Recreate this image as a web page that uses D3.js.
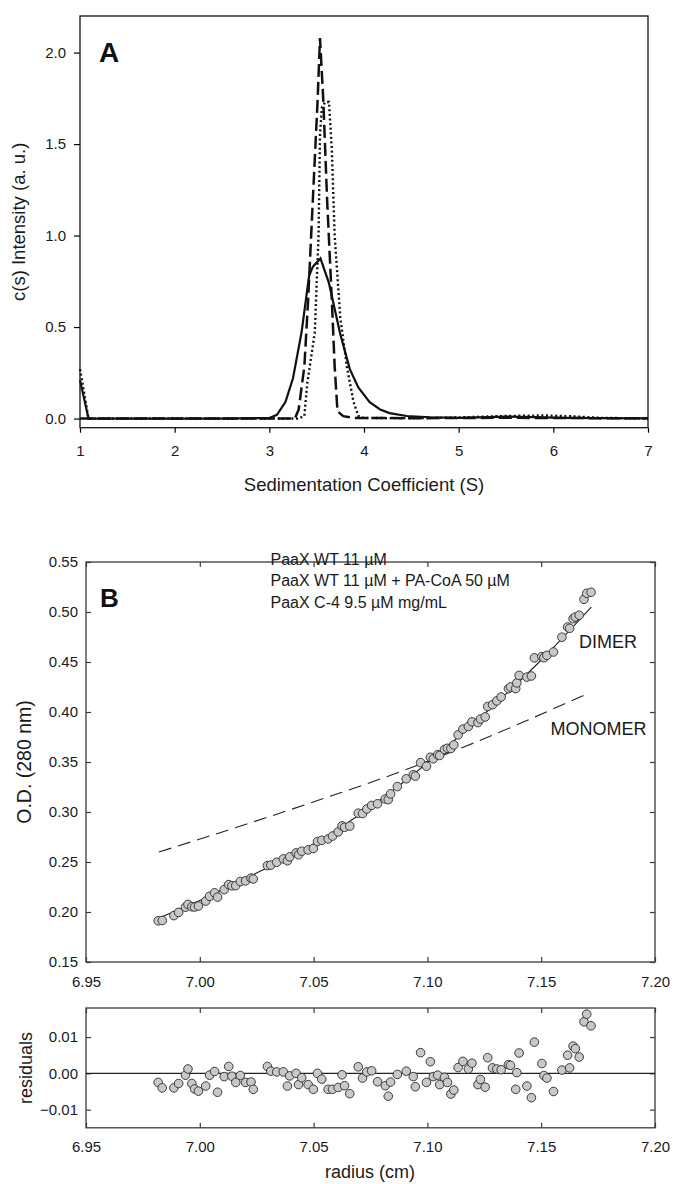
<!DOCTYPE html>
<html>
<head>
<meta charset="utf-8">
<script src="https://d3js.org/d3.v7.min.js"></script>
<style>
body { margin: 0; background: #fff; }
text { font-family: "Liberation Sans", Arial, Helvetica, sans-serif; }
</style>
</head>
<body>
<div id="graph"></div>
<script>
// ---- panel A : c(s) distributions, [S, c(s)] pairs
var cSolid = [[1,0.21],[1.09,0],[1.5,0],[2,0],[2.5,0],[3.0,0.003],[3.08,0.02],[3.17,0.09],[3.25,0.22],[3.34,0.47],[3.42,0.78],[3.46,0.83],[3.54,0.875],[3.63,0.74],[3.75,0.46],[3.85,0.27],[3.94,0.17],[4.06,0.09],[4.17,0.05],[4.27,0.03],[4.45,0.014],[4.7,0.007],[5.0,0.004],[5.3,0.008],[5.5,0.011],[5.8,0.008],[6.1,0.004],[6.5,0.002],[7,0.001]];
var cDashed = [[1,0],[2,0],[3.27,0],[3.31,0.05],[3.37,0.285],[3.41,0.65],[3.46,1.2],[3.51,1.74],[3.535,2.08],[3.57,1.74],[3.61,1.2],[3.66,0.65],[3.69,0.285],[3.72,0.04],[3.78,0.013],[3.9,0.003],[4.5,0.002],[5.5,0.004],[7,0.001]];
var cDotted = [[1,0.27],[1.09,0],[2,0],[3.0,0],[3.3,0],[3.37,0.013],[3.40,0.19],[3.48,0.47],[3.52,1.0],[3.535,1.55],[3.555,1.70],[3.59,1.73],[3.63,1.73],[3.66,1.47],[3.69,1.0],[3.75,0.55],[3.82,0.28],[3.89,0.09],[3.94,0.015],[4.0,0.003],[4.5,0.002],[5.0,0.006],[5.5,0.014],[5.9,0.017],[6.2,0.012],[6.5,0.004],[7,0]];
var aXTicks = [1, 2, 3, 4, 5, 6, 7];
var aYTicks = [0, 0.5, 1.0, 1.5, 2.0];

// ---- panel B : sedimentation equilibrium
var radius = [6.9817,6.9835,6.9886,6.9907,6.9937,6.9948,6.9965,6.9977,6.9994,7.0026,
  7.0043,7.0065,7.0078,7.0107,7.0127,7.0141,7.0158,7.0178,7.0201,7.0225,
  7.0235,7.0297,7.0312,7.0338,7.0367,7.0385,7.0395,7.0423,7.0434,7.0448,
  7.0476,7.0499,7.0517,7.0536,7.0564,7.0583,7.0608,7.0625,7.0636,7.0659,
  7.0696,7.0715,7.0734,7.0755,7.0781,7.0815,7.0828,7.0838,7.0868,7.0907,
  7.0938,7.0947,7.0970,7.0996,7.1013,7.1026,7.1045,7.1054,7.1075,7.1088,
  7.1103,7.1116,7.1135,7.1156,7.1180,7.1196,7.1222,7.1233,7.1254,7.1265,
  7.1286,7.1305,7.1324,7.1356,7.1365,7.1388,7.1393,7.1403,7.1437,7.1457,
  7.1470,7.1503,7.1512,7.1525,7.1554,7.1591,7.1616,7.1625,7.1640,7.1650,
  7.1667,7.1688,7.1700,7.1719];
var od = [0.1912,0.1915,0.1964,0.1996,0.2048,0.2076,0.2053,0.2050,0.2060,0.2109,
  0.2157,0.2192,0.2149,0.2224,0.2274,0.2262,0.2264,0.2305,0.2311,0.2339,
  0.2330,0.2464,0.2469,0.2497,0.2531,0.2512,0.2552,0.2591,0.2572,0.2608,
  0.2621,0.2635,0.2705,0.2717,0.2731,0.2759,0.2801,0.2861,0.2847,0.2859,
  0.2988,0.2985,0.3030,0.3066,0.3082,0.3130,0.3124,0.3181,0.3254,0.3332,
  0.3372,0.3359,0.3494,0.3458,0.3547,0.3532,0.3573,0.3565,0.3626,0.3637,
  0.3635,0.3671,0.3771,0.3829,0.3855,0.3902,0.3894,0.3930,0.3951,0.4055,
  0.4073,0.4111,0.4150,0.4233,0.4250,0.4234,0.4291,0.4366,0.4349,0.4360,
  0.4541,0.4554,0.4543,0.4567,0.4600,0.4748,0.4850,0.4837,0.4933,0.4950,
  0.4968,0.5127,0.5187,0.5197];
var resid = [-0.0025,-0.0040,-0.0040,-0.0028,-0.0005,0.0012,-0.0028,-0.0043,-0.0049,-0.0035,
  -0.0005,0.0005,-0.0052,-0.0009,0.0019,-0.0008,-0.0025,-0.0006,-0.0025,-0.0024,
  -0.0044,0.0019,0.0006,0.0004,0.0004,-0.0035,-0.0007,0.0000,-0.0031,-0.0012,
  -0.0031,-0.0044,0.0000,-0.0016,-0.0044,-0.0044,-0.0039,-0.0004,-0.0034,-0.0056,
  0.0018,-0.0013,0.0004,0.0007,-0.0023,-0.0034,-0.0063,-0.0024,-0.0003,0.0006,
  -0.0009,-0.0037,0.0057,-0.0025,0.0032,-0.0009,-0.0005,-0.0031,-0.0011,-0.0025,
  -0.0057,-0.0046,0.0016,0.0033,0.0012,0.0028,-0.0031,-0.0017,-0.0038,0.0043,
  0.0015,0.0012,0.0010,0.0024,0.0022,-0.0044,0.0002,0.0056,-0.0035,-0.0067,
  0.0086,0.0027,-0.0006,-0.0013,-0.0050,0.0009,0.0050,0.0015,0.0075,0.0068,
  0.0045,0.0142,0.0163,0.0131];
var dimerR = [6.982, 7.0, 7.025, 7.05, 7.075, 7.1, 7.125, 7.15, 7.172];
var dimerOD = [0.194, 0.2115, 0.239, 0.268, 0.305, 0.349, 0.398, 0.452, 0.505];
var monoR = [6.982, 7.02, 7.057, 7.0836, 7.116, 7.17];
var monoOD = [0.260, 0.2875, 0.3155, 0.3365, 0.365, 0.418];
var bXTicks = [6.95, 7.00, 7.05, 7.10, 7.15, 7.20];
var bYTicks = [0.15, 0.20, 0.25, 0.30, 0.35, 0.40, 0.45, 0.50, 0.55];
var rYTicks = [-0.01, 0.00, 0.01];
var legendLines = ["PaaX WT 11 \u00b5M", "PaaX WT 11 \u00b5M + PA-CoA 50 \u00b5M", "PaaX C-4 9.5 \u00b5M mg/mL"];

var W = 673, H = 1184;
var svg = d3.select("#graph").append("svg").attr("width", W).attr("height", H)
    .style("background", "#fff");

// scales
var xA = d3.scaleLinear().domain([1, 7]).range([80, 648]);
var yA = d3.scaleLinear().domain([-0.05, 2.2]).range([427.7, 16]);
var xB = d3.scaleLinear().domain([6.95, 7.20]).range([86, 655]);
var yB = d3.scaleLinear().domain([0.15, 0.55]).range([962, 562]);
var yR = d3.scaleLinear().domain([-0.015, 0.018]).range([1127.8, 1008]);

function styleAxis(g, col) {
    g.select(".domain").remove();
    g.attr("font-family", null).attr("font-size", null);
    g.selectAll("text").style("font-size", "15px").attr("fill", "#1a1a1a");
    g.selectAll("line").attr("stroke", col).attr("stroke-width", 1.2);
}

// ================= panel A =================
svg.append("g").attr("transform", "translate(80,0)")
    .call(d3.axisLeft(yA).tickValues(aYTicks).tickFormat(d3.format(".1f")).tickSize(6).tickPadding(8))
    .call(styleAxis, "#000");
svg.append("g").attr("transform", "translate(0,427.7)")
    .call(d3.axisBottom(xA).tickValues(aXTicks).tickFormat(d3.format("d")).tickSize(5).tickPadding(12.5))
    .call(styleAxis, "#000");

svg.append("rect").attr("x", xA(1)).attr("y", yA(2.2))
    .attr("width", xA(7) - xA(1)).attr("height", yA(-0.05) - yA(2.2))
    .attr("fill", "none").attr("stroke", "#111").attr("stroke-width", 1.3);

var lineA = d3.line().x(function (d) { return xA(d[0]); }).y(function (d) { return yA(d[1]); });

svg.append("path").datum(cSolid).attr("d", lineA)
    .attr("fill", "none").attr("stroke", "#111").attr("stroke-width", 2.2);
svg.append("path").datum(cDashed).attr("d", lineA)
    .attr("fill", "none").attr("stroke", "#111").attr("stroke-width", 2.5)
    .attr("stroke-dasharray", "13,5");
svg.append("path").datum(cDotted).attr("d", lineA)
    .attr("fill", "none").attr("stroke", "#111").attr("stroke-width", 2.4)
    .attr("stroke-dasharray", "2,2.6");

svg.append("text").attr("x", 99).attr("y", 62).text("A")
    .style("font-size", "28px").style("font-weight", "bold").attr("fill", "#111");

svg.append("text").attr("transform", "translate(25," + yA(1.075) + ") rotate(-90)")
    .attr("text-anchor", "middle").style("font-size", "18.5px").attr("fill", "#1a1a1a")
    .text("c(s) Intensity (a. u.)");
svg.append("text").attr("x", 364).attr("y", 491).attr("text-anchor", "middle")
    .style("font-size", "18.5px").attr("fill", "#1a1a1a").text("Sedimentation Coefficient (S)");

// ================= panel B =================
var frameCol = "#3a3a3a";
svg.append("g").attr("transform", "translate(86,0)")
    .call(d3.axisLeft(yB).tickValues(bYTicks).tickFormat(d3.format(".2f")).tickSize(-5).tickPadding(8))
    .call(styleAxis, frameCol);
svg.append("g").attr("transform", "translate(655,0)")
    .call(d3.axisRight(yB).tickValues(bYTicks).tickFormat("").tickSize(-5))
    .call(styleAxis, frameCol);
svg.append("g").attr("transform", "translate(0,962)")
    .call(d3.axisBottom(xB).tickValues(bXTicks).tickFormat(d3.format(".2f")).tickSize(-5).tickPadding(14))
    .call(styleAxis, frameCol);
svg.append("g").attr("transform", "translate(0,562)")
    .call(d3.axisTop(xB).tickValues(bXTicks).tickFormat("").tickSize(-5))
    .call(styleAxis, frameCol);

svg.append("rect").attr("x", xB(6.95)).attr("y", yB(0.55))
    .attr("width", xB(7.20) - xB(6.95)).attr("height", yB(0.15) - yB(0.55))
    .attr("fill", "none").attr("stroke", frameCol).attr("stroke-width", 1.3);

var dimerLine = d3.line().curve(d3.curveMonotoneX)
    .x(function (d, i) { return xB(dimerR[i]); }).y(function (d) { return yB(d); });
var monoLine = d3.line().curve(d3.curveMonotoneX)
    .x(function (d, i) { return xB(monoR[i]); }).y(function (d) { return yB(d); });

svg.append("path").datum(monoOD).attr("d", monoLine)
    .attr("fill", "none").attr("stroke", "#222").attr("stroke-width", 1.1)
    .attr("stroke-dasharray", "13,7");
svg.append("path").datum(dimerOD).attr("d", dimerLine)
    .attr("fill", "none").attr("stroke", "#222").attr("stroke-width", 1.1);

svg.append("g").selectAll("circle")
    .data(od)
    .enter()
    .append("circle")
    .attr("cx", function (d, i) { return xB(radius[i]); })
    .attr("cy", function (d) { return yB(d); })
    .attr("r", 4.3)
    .attr("fill", "#c8c8c8").attr("stroke", "#2a2a2a").attr("stroke-width", 0.9);

svg.append("text").attr("x", 100).attr("y", 607).text("B")
    .style("font-size", "26px").style("font-weight", "bold").attr("fill", "#111");

svg.append("g").selectAll("text")
    .data(legendLines)
    .enter()
    .append("text")
    .attr("x", 270.5)
    .attr("y", function (d, i) { return 564.5 + i * 21.8; })
    .style("font-size", "16px").attr("fill", "#1a1a1a")
    .text(function (d) { return d; });

svg.append("text").attr("x", 579).attr("y", 648).style("font-size", "18px")
    .attr("fill", "#1a1a1a").text("DIMER");
svg.append("text").attr("x", 550.5).attr("y", 735).style("font-size", "18px")
    .attr("fill", "#1a1a1a").text("MONOMER");

svg.append("text").attr("transform", "translate(31," + yB(0.35) + ") rotate(-90)")
    .attr("text-anchor", "middle").style("font-size", "19.5px").attr("fill", "#1a1a1a")
    .text("O.D. (280 nm)");

// ================= residuals =================
svg.append("g").attr("transform", "translate(86,0)")
    .call(d3.axisLeft(yR).tickValues(rYTicks).tickFormat(d3.format(".2f")).tickSize(-5).tickPadding(8))
    .call(styleAxis, frameCol);
svg.append("g").attr("transform", "translate(655,0)")
    .call(d3.axisRight(yR).tickValues(rYTicks).tickFormat("").tickSize(-5))
    .call(styleAxis, frameCol);
svg.append("g").attr("transform", "translate(0,1127.8)")
    .call(d3.axisBottom(xB).tickValues(bXTicks).tickFormat(d3.format(".2f")).tickSize(-5).tickPadding(14))
    .call(styleAxis, frameCol);
svg.append("g").attr("transform", "translate(0,1008)")
    .call(d3.axisTop(xB).tickValues(bXTicks).tickFormat("").tickSize(-5))
    .call(styleAxis, frameCol);

svg.append("rect").attr("x", xB(6.95)).attr("y", yR(0.018))
    .attr("width", xB(7.20) - xB(6.95)).attr("height", yR(-0.015) - yR(0.018))
    .attr("fill", "none").attr("stroke", frameCol).attr("stroke-width", 1.3);

svg.append("line")
    .attr("x1", xB(6.95)).attr("x2", xB(7.20))
    .attr("y1", yR(0)).attr("y2", yR(0))
    .attr("stroke", "#222").attr("stroke-width", 1.2);

svg.append("g").selectAll("circle")
    .data(resid)
    .enter()
    .append("circle")
    .attr("cx", function (d, i) { return xB(radius[i]); })
    .attr("cy", function (d) { return yR(d); })
    .attr("r", 4.3)
    .attr("fill", "#c8c8c8").attr("stroke", "#2a2a2a").attr("stroke-width", 0.9);

svg.append("text").attr("transform", "translate(32," + yR(0.0015) + ") rotate(-90)")
    .attr("text-anchor", "middle").style("font-size", "18px").attr("fill", "#1a1a1a")
    .text("residuals");
svg.append("text").attr("x", 370).attr("y", 1178).attr("text-anchor", "middle")
    .style("font-size", "18px").attr("fill", "#1a1a1a").text("radius (cm)");
</script>
</body>
</html>
